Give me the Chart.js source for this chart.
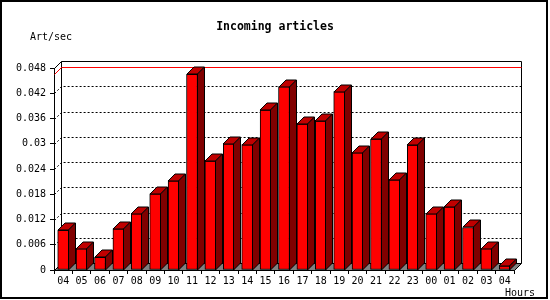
<!DOCTYPE html>
<html>
<head>
<meta charset="utf-8">
<script src="https://cdn.jsdelivr.net/npm/chart.js@4/dist/chart.umd.min.js"></script>
<style>
  body { margin: 0; background: #fff; }
  canvas { display: block; }
</style>
</head>
<body>
<canvas id="c" width="550" height="300"></canvas>
<script>
// data
const hours = ['04','05','06','07','08','09','10','11','12','13','14','15','16',
               '17','18','19','20','21','22','23','00','01','02','03','04'];
const artPerSec = [0.0094, 0.0051, 0.0030, 0.0098, 0.0134, 0.0181, 0.0212, 0.0465,
                   0.0259, 0.0300, 0.0298, 0.0380, 0.0436, 0.0347, 0.0354, 0.0424,
                   0.0279, 0.0311, 0.0214, 0.0297, 0.0134, 0.0150, 0.0101, 0.0051, 0.0010];
const yTicks = [0, 0.006, 0.012, 0.018, 0.024, 0.03, 0.036, 0.042, 0.048];

const titleText = 'Incoming articles';
const yTitle = 'Art/sec';
const xTitle = 'Hours';

const DEPTH = 7;
const MONO = '"DejaVu Sans Mono", monospace';
const px = v => Math.round(v) + 0.5;

// 3d look: back wall, floor, dotted grid, max line, bar sides
const threeD = {
  id: 'threeD',
  beforeDraw(chart) {
    const ctx = chart.ctx;
    ctx.save();
    ctx.fillStyle = '#fff';
    ctx.fillRect(0, 0, chart.width, chart.height);
    ctx.restore();
  },
  beforeDatasetsDraw(chart) {
    const ctx = chart.ctx;
    const a = chart.chartArea;
    const y = chart.scales.y;
    const L = a.left, R = a.right, T = a.top, B = a.bottom, D = DEPTH;
    ctx.save();
    ctx.lineWidth = 1;

    // dotted grid on the back wall
    ctx.strokeStyle = '#000';
    ctx.setLineDash([2, 2]);
    yTicks.forEach(v => {
      if (v === 0 || v === yTicks[yTicks.length - 1]) return;
      const yy = y.getPixelForValue(v);
      ctx.beginPath();
      ctx.moveTo(px(L), px(yy));
      ctx.lineTo(px(L + D), px(yy - D));
      ctx.lineTo(px(R + D), px(yy - D));
      ctx.stroke();
    });
    ctx.setLineDash([]);

    // back wall frame
    ctx.beginPath();
    ctx.moveTo(px(L + D), px(B - D));
    ctx.lineTo(px(L + D), px(T - D));
    ctx.lineTo(px(R + D), px(T - D));
    ctx.lineTo(px(R + D), px(B - D));
    ctx.moveTo(px(L), px(T));
    ctx.lineTo(px(L + D), px(T - D));
    ctx.stroke();

    // floor
    ctx.fillStyle = '#808080';
    ctx.beginPath();
    ctx.moveTo(px(L), px(B));
    ctx.lineTo(px(R), px(B));
    ctx.lineTo(px(R + D), px(B - D));
    ctx.lineTo(px(L + D), px(B - D));
    ctx.closePath();
    ctx.fill();
    ctx.stroke();

    // max line
    const maxY = y.getPixelForValue(Math.max(...artPerSec));
    ctx.strokeStyle = '#f00';
    ctx.beginPath();
    ctx.moveTo(px(L), px(maxY));
    ctx.lineTo(px(L + D), px(maxY - D));
    ctx.lineTo(px(R + D), px(maxY - D));
    ctx.stroke();
    ctx.restore();
  },
  afterDatasetsDraw(chart) {
    const ctx = chart.ctx;
    const D = DEPTH;
    ctx.save();
    ctx.lineWidth = 1;
    ctx.strokeStyle = '#000';
    chart.getDatasetMeta(0).data.forEach(bar => {
      const p = bar.getProps(['x', 'y', 'base', 'width'], true);
      const l = px(p.x - p.width / 2) - 0.5;
      const r = px(p.x + p.width / 2) - 1;
      const t = px(p.y) - 0.5;
      const b = px(p.base) - 0.5;
      // top face
      ctx.fillStyle = '#c00000';
      ctx.beginPath();
      ctx.moveTo(l, t);
      ctx.lineTo(l + D, t - D);
      ctx.lineTo(r + D, t - D);
      ctx.lineTo(r, t);
      ctx.closePath();
      ctx.fill();
      ctx.stroke();
      // side face
      ctx.fillStyle = '#800000';
      ctx.beginPath();
      ctx.moveTo(r, t);
      ctx.lineTo(r + D, t - D);
      ctx.lineTo(r + D, b - D);
      ctx.lineTo(r, b);
      ctx.closePath();
      ctx.fill();
      ctx.stroke();
    });
    ctx.restore();
  },
  afterDraw(chart) {
    const ctx = chart.ctx;
    ctx.save();
    ctx.fillStyle = '#000';
    ctx.textBaseline = 'middle';
    ctx.font = 'bold 11.5px ' + MONO;
    ctx.textAlign = 'center';
    ctx.fillText(titleText, chart.width / 2, 27);
    ctx.font = '10px ' + MONO;
    ctx.textAlign = 'left';
    ctx.fillText(yTitle, 30, 37);
    ctx.fillText(xTitle, 505, 293);
    // outer frame
    ctx.lineWidth = 2;
    ctx.strokeStyle = '#000';
    ctx.strokeRect(1, 1, 546, 297);
    ctx.restore();
  }
};

new Chart(document.getElementById('c'), {
  type: 'bar',
  data: {
    labels: hours,
    datasets: [{
      data: artPerSec,
      backgroundColor: '#ff0000',
      borderColor: '#000',
      borderWidth: 1,
      borderSkipped: false,
      barThickness: 11
    }]
  },
  options: {
    responsive: false,
    animation: false,
    layout: { padding: { top: 68, right: 36, left: 0, bottom: 0 } },
    plugins: { legend: { display: false }, tooltip: { enabled: false } },
    scales: {
      x: {
        afterFit: s => { s.height = 30; },
        grid: { drawOnChartArea: false, drawTicks: true, tickLength: 4, color: '#000' },
        border: { display: true, color: '#000' },
        ticks: { color: '#000', font: { family: MONO, size: 10 }, padding: 1, maxRotation: 0, autoSkip: false }
      },
      y: {
        min: 0,
        max: 0.048,
        afterFit: s => { s.width = 54; },
        afterBuildTicks: s => { s.ticks = yTicks.map(v => ({ value: v })); },
        grid: { drawOnChartArea: false, drawTicks: true, tickLength: 4, color: '#000' },
        border: { display: true, color: '#000' },
        ticks: {
          color: '#000',
          padding: 4,
          font: { family: MONO, size: 10 },
          callback: v => String(Number(v.toFixed(3)))
        }
      }
    }
  },
  plugins: [threeD]
});
</script>
</body>
</html>
